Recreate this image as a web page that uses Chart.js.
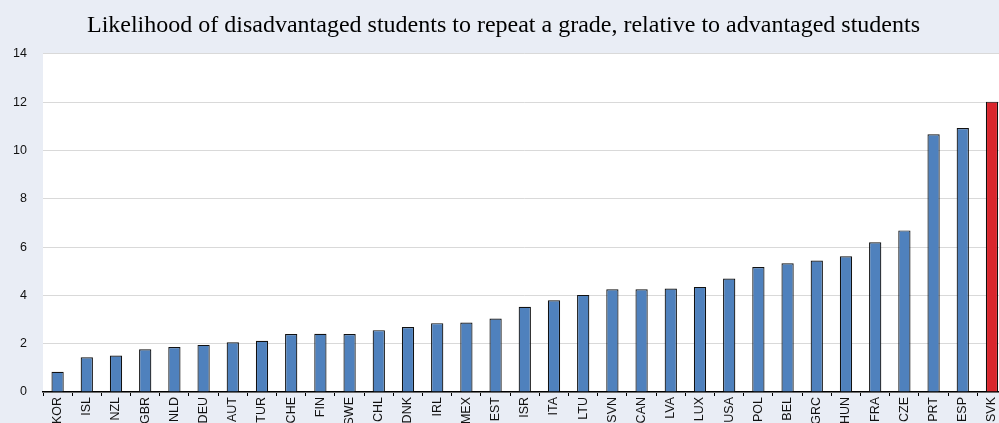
<!DOCTYPE html>
<html>
<head>
<meta charset="utf-8">
<script src="https://cdn.jsdelivr.net/npm/chart.js@4/dist/chart.umd.min.js"></script>
<style>
html, body { margin: 0; padding: 0; background: #E9EDF5; overflow: hidden; }
#wrap { width: 999px; height: 423px; overflow: hidden; position: relative; }
#box { width: 1008px; height: 450px; position: absolute; left: 0; top: 0; }
</style>
</head>
<body>
<div id="wrap"><div id="box"><canvas id="chart"></canvas></div></div>
<script>
// countries, sorted as in the figure
const countries = ["KOR","ISL","NZL","GBR","NLD","DEU","AUT","TUR","CHE","FIN","SWE","CHL","DNK","IRL","MEX","EST","ISR","ITA","LTU","SVN","CAN","LVA","LUX","USA","POL","BEL","GRC","HUN","FRA","CZE","PRT","ESP","SVK"];

// likelihood of disadvantaged students repeating a grade (odds ratio)
const repeatRatio = [0.84,1.44,1.51,1.77,1.86,1.95,2.06,2.12,2.40,2.41,2.40,2.56,2.69,2.85,2.88,3.04,3.53,3.80,4.02,4.25,4.25,4.28,4.35,4.70,5.17,5.33,5.44,5.62,6.20,6.69,10.67,10.93,12.02];

const yTicks = [0, 2, 4, 6, 8, 10, 12, 14];
const highlight = "SVK";

const blue = "#4F81BD";
const red = "#D9262D";

// white plot area on the tinted page
const plotBg = {
  id: "plotBg",
  beforeDraw(chart) {
    const a = chart.chartArea;
    const ctx = chart.ctx;
    ctx.save();
    ctx.fillStyle = "#FFFFFF";
    ctx.fillRect(a.left, a.top, a.right - a.left, a.bottom - a.top);
    ctx.restore();
  }
};

new Chart(document.getElementById("chart"), {
  type: "bar",
  data: {
    labels: countries,
    datasets: [{
      data: repeatRatio,
      backgroundColor: countries.map(c => c === highlight ? red : blue),
      borderColor: "#111",
      borderWidth: 1.2,
      borderSkipped: "bottom",
      barPercentage: 1,
      categoryPercentage: 0.42
    }]
  },
  options: {
    responsive: true,
    maintainAspectRatio: false,
    animation: false,
    layout: { padding: { right: 1 } },
    plugins: {
      legend: { display: false },
      tooltip: { enabled: false },
      title: {
        display: true,
        text: "Likelihood of disadvantaged students to repeat a grade, relative to advantaged students",
        color: "#000",
        font: { family: "'Liberation Serif', 'Times New Roman', serif", size: 24, weight: "normal", lineHeight: 1.2 },
        padding: { top: 11, bottom: 14 }
      }
    },
    scales: {
      x: {
        offset: true,
        grid: {
          offset: true,
          drawOnChartArea: false,
          drawTicks: true,
          tickLength: 4,
          color: "#000"
        },
        border: { display: true, color: "#000", width: 1.5 },
        ticks: {
          minRotation: 90,
          maxRotation: 90,
          autoSkip: false,
          padding: 1,
          color: "#111",
          font: { family: "'Liberation Sans', Arial, sans-serif", size: 12.5 }
        },
        afterFit: s => { s.height = 58; }
      },
      y: {
        min: 0,
        max: 14,
        afterBuildTicks: s => { s.ticks = yTicks.map(v => ({ value: v })); },
        grid: { color: "#D9D9D9", drawTicks: false, lineWidth: 1 },
        border: { display: false },
        ticks: {
          padding: 16,
          color: "#111",
          font: { family: "'Liberation Sans', Arial, sans-serif", size: 12.5 }
        },
        afterFit: s => { s.width = 43; }
      }
    }
  },
  plugins: [plotBg]
});
</script>
</body>
</html>
